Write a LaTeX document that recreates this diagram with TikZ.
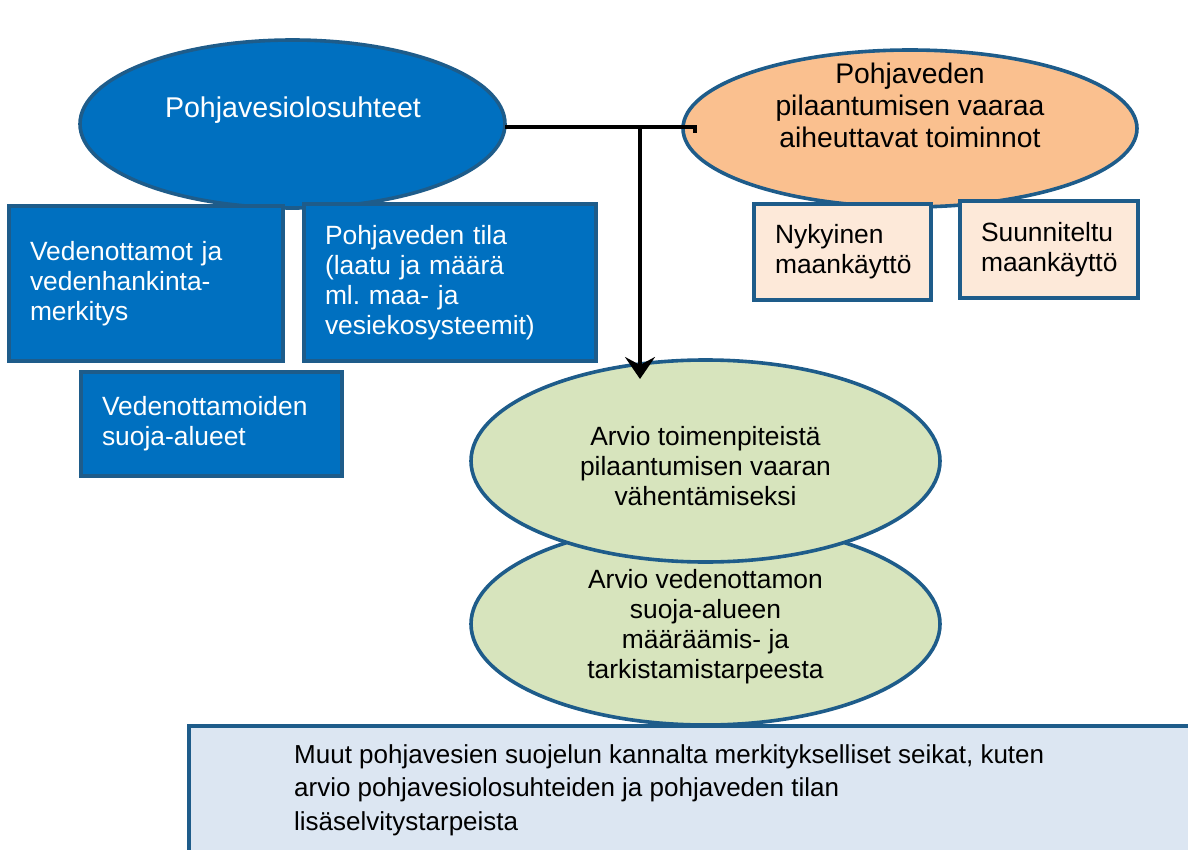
\documentclass[tikz,border=0pt]{standalone}
\usepackage{fontspec}
\setmainfont{Liberation Sans}
\usetikzlibrary{shapes.geometric,arrows.meta}

\definecolor{edgeblue}{RGB}{30,92,138}
\definecolor{deepblue}{RGB}{0,112,192}
\definecolor{apricot}{RGB}{250,192,143}
\definecolor{peach}{RGB}{253,233,217}
\definecolor{sage}{RGB}{215,228,189}
\definecolor{paleblue}{RGB}{220,230,242}

\tikzset{
  oval/.style={ellipse, draw=edgeblue, line width=3.6pt, inner sep=0pt, outer sep=0pt},
  card/.style={rectangle, draw=edgeblue, line width=3.6pt, anchor=north west,
    inner xsep=21pt, inner ysep=0pt, align=left, outer sep=0pt},
  txt/.style={align=center, inner sep=0pt},
  link/.style={line width=4.5pt, black},
  bodyfont/.style={font=\fontsize{26.4}{30}\selectfont},
}

\begin{document}
\begin{tikzpicture}[x=1pt, y=-1pt]
\useasboundingbox (0,0) rectangle (1188,850);
\clip (0,0) rectangle (1188,850);

% top-level ellipses
\node[oval, fill=deepblue, minimum width=425pt, minimum height=168pt] (pv) at (292.5,124) {};
\node[txt, text=white, font=\fontsize{28.6}{32}\selectfont] (pvt) at (293,110) {Pohjavesiolosuhteet};

\node[oval, fill=apricot, minimum width=454pt, minimum height=157pt] (risk) at (910,128.5) {};
\node[txt, font=\fontsize{28.3}{32}\selectfont] (riskt) at (910,105) {Pohjaveden\\pilaantumisen vaaraa\\aiheuttavat toiminnot};

% blue information boxes
\node[card, fill=deepblue, text=white, bodyfont, minimum width=274pt, minimum height=155pt, text width=232pt] (intake) at (9,206)
  {Vedenottamot ja\\vedenhankinta-\\merkitys};
\node[card, fill=deepblue, text=white, bodyfont, minimum width=292pt, minimum height=157pt, text width=250pt] (state) at (304,204)
  {Pohjaveden tila\\(laatu ja määrä\\ml.\ maa- ja\\vesiekosysteemit)};
\node[card, fill=deepblue, text=white, bodyfont, minimum width=261pt, minimum height=104pt, text width=219pt] (zones) at (81,372)
  {Vedenottamoiden\\suoja-alueet};

% land-use boxes
\node[card, fill=peach, bodyfont, minimum width=177pt, minimum height=96pt, text width=135pt] (now) at (754,204)
  {Nykyinen\\maankäyttö};
\node[card, fill=peach, bodyfont, minimum width=178pt, minimum height=97pt, text width=136pt] (plan) at (960,201)
  {Suunniteltu\\maankäyttö};

% assessment ellipses
\node[oval, fill=sage, minimum width=469pt, minimum height=202pt] (area) at (705.5,624) {};
\node[txt, bodyfont] (areat) at (705.5,627) {Arvio vedenottamon\\suoja-alueen\\määräämis- ja\\tarkistamistarpeesta};
\node[oval, fill=sage, minimum width=469pt, minimum height=202pt] (measures) at (705.5,461) {};
\node[txt, bodyfont] (measurest) at (705.5,466) {Arvio toimenpiteistä\\pilaantumisen vaaran\\vähentämiseksi};

% further-study box
\node[card, fill=paleblue, minimum width=1020pt, minimum height=150pt, text width=900pt,
  inner xsep=0pt, anchor=north west] (more) at (189,726) {};
\node[anchor=north west, inner sep=0pt, align=left, font=\fontsize{26}{33.5}\selectfont] (moret) at (294,744)
  {Muut pohjavesien suojelun kannalta merkitykselliset seikat, kuten\\arvio pohjavesiolosuhteiden ja pohjaveden tilan\\lisäselvitystarpeista};

% connectors
\coordinate (join) at (640,127);
\coordinate (hook) at (695,127);
\coordinate (tip) at (640,379);
\draw[link] (pv.east |- join) -- (hook) -- ++(0,6);
\draw[link, -{Stealth[length=22pt, width=30pt, inset=8pt]}] (join) -- (tip);
\end{tikzpicture}
\end{document}
